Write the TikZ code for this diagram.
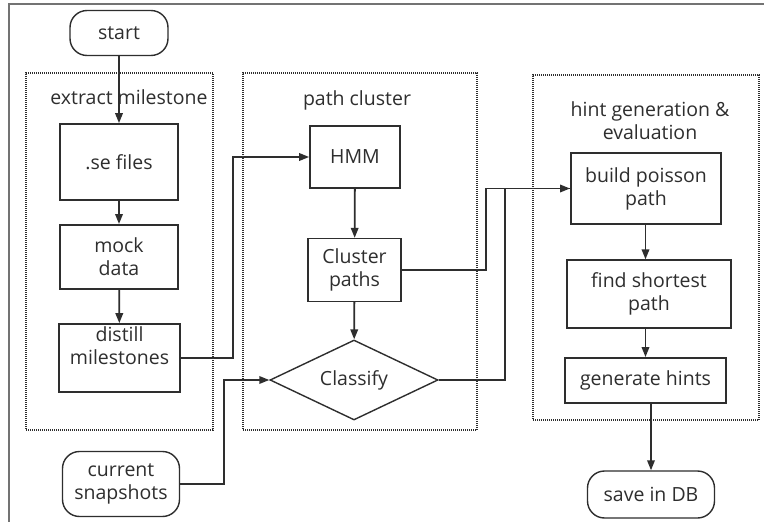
\documentclass[tikz,border=0pt]{standalone}
\usepackage{fontspec}
\setmainfont{Open Sans}
\usetikzlibrary{arrows.meta,shapes.geometric}
\definecolor{ink}{HTML}{2E2E2E}
\begin{document}
\begin{tikzpicture}[x=1pt,y=-1pt,
  txt/.style={font=\fontsize{19.5}{23}\selectfont, text=ink},
  box/.style={txt, draw=ink, line width=1.7pt, fill=white, align=center, inner sep=0pt},
  term/.style={box, line width=1.4pt, rounded corners=17pt},
  group/.style={draw=ink, line width=1.1pt, dash pattern=on 1pt off 1pt, inner sep=0pt},
  line/.style={draw=ink, line width=1.8pt},
  arr/.style={line, -{Triangle[length=10pt,width=7.5pt]}}]
\useasboundingbox (0,0) rectangle (764,522);
\fill[white] (0,0) rectangle (764,522);
% frame
\coordinate (fbl) at (9,522);
\coordinate (ftl) at (9,4);
\coordinate (ftr) at (764,4);
\draw[black!55, line width=1.5pt] (fbl) -- (ftl) -- (ftr);
% groups
\node[group, minimum width=187, minimum height=357] (g1) at (119.5,251.5) {};
\node[group, minimum width=234, minimum height=357] (g2) at (360,251.5) {};
\node[group, minimum width=226, minimum height=345] (g3) at (646,247.5) {};
\node[txt] (l1) at (129,97) {extract milestone};
\node[txt] (l2) at (357,100) {path cluster};
\node[txt, align=center] (l3) at (650,121) {hint generation \&\\evaluation};
% nodes
\node[term, minimum width=98, minimum height=45] (start) at (119,33) {start};
\node[box, minimum width=118, minimum height=76] (se) at (119,162) {.se files};
\node[box, line width=2pt, minimum width=118, minimum height=64] (mock) at (119,257) {mock\\data};
\node[box, minimum width=121, minimum height=68] (dist) at (119.5,358) {};
\node[txt, align=center, inner sep=0pt] (distt) at (119.5,346) {distill\\milestones};
\node[term, minimum width=117, minimum height=65] (snap) at (121,484) {current\\snapshots};
\node[box, minimum width=90, minimum height=62] (hmm) at (355,157) {HMM};
\node[box, line width=1.3pt, minimum width=93, minimum height=63] (clus) at (354.5,270) {Cluster\\paths};
\node[diamond, draw=ink, line width=1.4pt, fill=white, txt, inner sep=0pt, aspect=2.1, minimum width=168, minimum height=80] (cls) at (354,380) {Classify};
\node[box, line width=1.9pt, minimum width=150, minimum height=71] (build) at (646,188.5) {build poisson\\path};
\node[box, line width=1.3pt, minimum width=164, minimum height=68] (find) at (649,294) {find shortest\\path};
\node[box, line width=1.9pt, minimum width=161, minimum height=45] (gen) at (645.5,380.5) {generate hints};
\node[term, minimum width=127, minimum height=47] (save) at (651,494.5) {save in DB};
% connectors
\draw[arr] (start) -- (se);
\draw[arr] (se) -- (mock);
\draw[arr] (mock) -- (dist);
\draw[arr] (dist.east) -- ++(52,0) |- (hmm.west);
\draw[arr] (hmm) -- (clus);
\draw[arr] (clus) -- (cls);
\draw[arr] (snap.east) -- ++(44,0) |- (cls.west);
\draw[arr] (clus.east) -- ++(84.5,0) |- (build.west);
\draw[line] (cls.east) -- ++(66,0) |- (build.west);
\draw[arr] (build.south -| gen.north) -- (find.north -| gen.north);
\draw[arr] (find.south -| gen.north) -- (gen.north);
\draw[arr] (gen.south -| save.north) -- (save.north);
\end{tikzpicture}
\end{document}
